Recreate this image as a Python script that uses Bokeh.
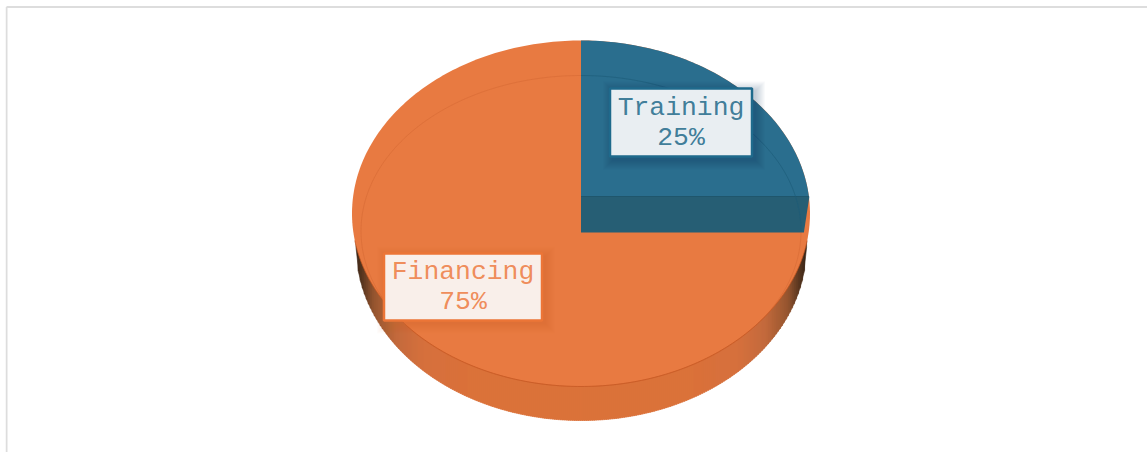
import numpy as np
from bokeh.plotting import figure
from bokeh.embed import file_html
from bokeh.resources import INLINE
from bokeh.core.properties import value

categories = ["Training", "Financing"]
shares = [25, 75]
slice_colors = ["#2A6E8E", "#E87A41"]
strip_color = "#265E74"
edge_colors = ["#1F6A8C", "#EC7537"]
label_fills = ["#E9EEF2", "#F9EFEA"]
label_text_colors = ["#2A6E8E", "#EE7F48"]

X0, Y0 = 5, 5
W, H = 1142, 447
p = figure(width=W, height=H, x_range=(X0, X0 + W), y_range=(Y0 + H, Y0),
           output_backend="svg", toolbar_location=None, min_border=0,
           outline_line_color=None, background_fill_color="white")
p.axis.visible = False
p.grid.visible = False
p.styles = {"position": "absolute", "left": f"{X0}px", "top": f"{Y0}px"}

# frame
p.segment([6.0, 6.0], [6.5, 6.5], [X0 + W, 6.0], [6.5, Y0 + H], line_color="#DDDDDD", line_width=2)

cx, cy, rx, ry = 580.5, 213.0, 229.0, 173.0
depth = 34.0

def pt(theta, c=cy, a=rx, b=ry):
    return cx + a * np.sin(theta), c - b * np.cos(theta)

# side wall, drawn behind the face as slim sloped strips
wall_rx = 225.0
edges = np.linspace(-wall_rx, wall_rx, 226)
stops_t = [0.0, 0.5, 0.7, 0.82, 0.92, 0.97, 1.0]
stops_c = np.array([[220, 115, 58], [219, 114, 58], [214, 113, 62], [196, 106, 60],
                    [150, 86, 48], [90, 55, 32], [58, 38, 24]], float)
wall_xs, wall_ys, wall_cols = [], [], []
def wall_bot(x):
    return cy + depth + ry * np.sqrt(max(0.0, 1 - (x / wall_rx) ** 2))
for a, b in zip(edges[:-1], edges[1:]):
    t = abs((a + b) / 2) / wall_rx
    c = [np.interp(t, stops_t, stops_c[:, i]) for i in range(3)]
    wall_cols.append("#%02x%02x%02x" % tuple(int(v) for v in c))
    wall_xs.append([cx + a, cx + b + 0.6, cx + b + 0.6, cx + a])
    wall_ys.append([cy, cy, wall_bot(b), wall_bot(a)])
p.patches(wall_xs, wall_ys, fill_color=wall_cols, line_color=wall_cols, line_width=0.6)

# orange face
th = np.linspace(0, 2 * np.pi, 361)
fx, fy = pt(th)
p.patch(fx, fy, fill_color=slice_colors[1], line_color=None)
# darker rim along the front edge of the face
th2 = np.linspace(np.pi * 0.55, np.pi * 1.45, 181)
rxs, rys = pt(th2)
p.line(rxs, rys, line_color="#C4551F", line_width=1, line_alpha=0.7)

# faint inner ellipse
ix, iy = pt(th, c=230.5, a=220.0, b=155.5)
p.line(ix, iy, line_color="#C85E2A", line_width=1, line_alpha=0.3)

# blue slice: from the top clockwise by its share, cut at the strip
top_cut = 196.0
strip_bot = 232.0
ta = np.linspace(0, np.arcsin(np.sqrt(max(0, 1 - ((cy - top_cut) / ry) ** 2))), 91)
bx, by = pt(ta)
p.patch(np.r_[cx, bx, bx[-1], cx], np.r_[top_cut, by, top_cut, top_cut],
        fill_color=slice_colors[0], line_color=None)
p.patch([cx, bx[-1] + 0.5, bx[-1] - 5.0, cx], [top_cut, top_cut, strip_bot, strip_bot],
        fill_color=strip_color, line_color=None)
p.line([cx, bx[-1]], [top_cut, top_cut], line_color="#1F566C", line_width=1)
ibx, iby = pt(np.linspace(0, np.pi / 2, 91), c=230.5, a=220.0, b=155.5)
mask = iby < strip_bot
p.line(ibx[mask], iby[mask], line_color="#1D5C78", line_width=1, line_alpha=0.6)

# labels
boxes = [(609.5, 751.5, 88, 156), (383.5, 541.5, 253, 320)]
shadow_cols = ["#0E3F57", "#C9622C"]
shadow_alpha = [0.025, 0.018]
for i, (l, r, t, b) in enumerate(boxes):
    for k in range(10, 0, -1):
        p.quad(left=l + 3 - k, right=r + 3 + k, top=t + 3 - k, bottom=b + 3 + k,
               fill_color=shadow_cols[i], fill_alpha=shadow_alpha[i], line_color=None)
    p.quad(left=l, right=r, top=t, bottom=b, fill_color=label_fills[i],
           line_color=edge_colors[i], line_width=2.5)
    mid = (l + r) / 2
    p.text([mid, mid], [(t + b) / 2 - 15, (t + b) / 2 + 15],
           text=[categories[i], f"{shares[i]}%"],
           text_font=value("Liberation Mono"), text_font_size="26.4px",
           text_color=label_text_colors[i], text_alpha=0.9,
           text_align="center", text_baseline="middle")

open("out.html", "w").write(file_html(p, INLINE))
